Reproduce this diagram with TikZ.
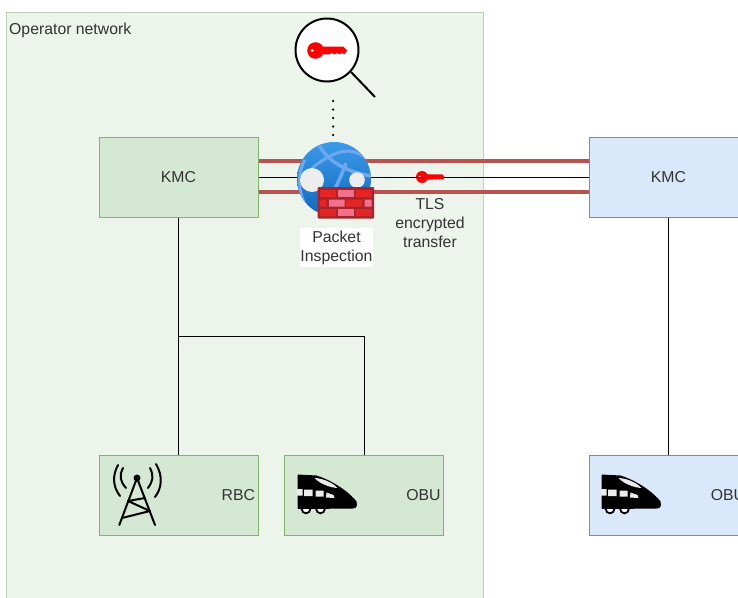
\documentclass[tikz,border=0pt]{standalone}
\usepackage{fontspec}
\setmainfont{Liberation Sans}
\definecolor{zonefill}{HTML}{EDF4EC}
\definecolor{zoneline}{HTML}{BBD3B3}
\definecolor{greenfill}{HTML}{D5E8D4}
\definecolor{greenline}{HTML}{82B366}
\definecolor{bluefill}{HTML}{DAE8FC}
\definecolor{blueline}{HTML}{6C8EBF}
\definecolor{bandred}{HTML}{B85450}
\definecolor{labelgrey}{HTML}{333333}
\definecolor{globetop}{HTML}{3C9AE8}
\definecolor{globelow}{HTML}{0F68C0}
\definecolor{globeline}{HTML}{6BA8EE}
\definecolor{brickdark}{HTML}{A4262C}
\definecolor{brickred}{HTML}{E62424}
\definecolor{brickpink}{HTML}{F2708C}
\tikzset{
	label text/.style={text=labelgrey, font=\fontsize{15.8}{19}\selectfont, inner sep=0pt, align=center},
	topbox/.style={draw, line width=1pt, minimum width=159pt, minimum height=80pt, inner sep=0pt, label text},
	lowbox/.style={topbox, text width=153pt, align=right},
	greenbox/.style={fill=greenfill, draw=greenline},
	bluebox/.style={fill=bluefill, draw=blueline},
	link/.style={line width=1pt, draw=black},
	band/.style={line width=4.5pt, draw=bandred},
	key/.pic={
		\fill[red] (0,0) circle (8.3);
		\fill[red] (0,-3.8) -- (28,-3.8) -- (31.5,0) -- (29,3.8) -- (26.5,2.5) -- (24,3.8) -- (21.5,2.5) -- (19,3.8) -- (16.5,2.5) -- (14,3.8) -- (0,3.8) -- cycle;
		\fill[white] (-3.3,0) circle (1.6);
	},
	train/.pic={
		\fill[black] (0,0) -- (19,1) .. controls (38,7) and (54,20) .. (59,27) .. controls (60,32) and (59,34) .. (55,34) -- (0,34) -- cycle;
		\fill[black!8] (-0.5,14.5) rectangle (5,21) (6.5,15) rectangle (15,21.5) (18,16) rectangle (26,22) (29,18) -- (36,20.5) -- (37,23.5) -- (28.5,23) -- cycle;
		\fill[black!8] (17,3.5) .. controls (27,4) and (36,9) .. (40,13.5) .. controls (32,13) and (22,9) .. (17,3.5) -- cycle;
		\draw[black, line width=1.8pt, fill=white] (8.5,34.5) circle (4.3) (23,34.5) circle (4.3);
		\fill[black] (0,27) rectangle (32,34);
	}
}
\begin{document}
\begin{tikzpicture}[x=1pt, y=-1pt]
	\useasboundingbox (0,0) rectangle (738,597);
	\clip (0,0) rectangle (738,597);

	\node[draw=zoneline, fill=zonefill, line width=1pt, minimum width=477pt, minimum height=620pt, anchor=north west, inner sep=0pt] (zone) at (6,12) {};
	\node[label text, anchor=west] (zonetitle) at (9,30.5) {Operator network};

	\node[topbox, greenbox] (kmcA) at (178.5,177) {KMC};
	\node[topbox, bluebox] (kmcB) at (668.5,177) {KMC};
	\node[lowbox, greenbox] (rbc) at (178.5,495) {RBC};
	\node[lowbox, greenbox] (obuA) at (364,495) {OBU};
	\node[lowbox, bluebox] (obuB) at (668.5,495) {OBU};
	\coordinate (junction) at (kmcA.south |- 0,336);

	\draw[link] (kmcA) -- (rbc);
	\draw[link] (junction) -| (obuA);
	\draw[link] (kmcB) -- (obuB);
	\draw[band] ([yshift=16pt]kmcA.east) -- ([yshift=16pt]kmcB.west);
	\draw[band] ([yshift=-15pt]kmcA.east) -- ([yshift=-15pt]kmcB.west);
	\draw[link] (kmcA) -- (kmcB);

	% globe with the firewall
	\node[circle, minimum size=74pt, inner sep=0pt, top color=globetop, bottom color=globelow] (globe) at (334,179) {};
	\begin{scope}
		\clip (globe.center) circle (37);
		\draw[globeline, line width=3.5pt] (318,143) .. controls (326,160) and (345,172) .. (372,176);
		\draw[globeline, line width=3.5pt] (346,163) .. controls (340,180) and (332,195) .. (322,214);
		\draw[globeline, line width=3pt] (305,160) .. controls (298,170) and (296,195) .. (310,212);
		\draw[globeline, line width=3pt] (366,158) .. controls (350,146) and (335,150) .. (312,168);
		\fill[black!7] (312,180) circle (12) (357,180) circle (7.8);
	\end{scope}
	\fill[brickdark, rounded corners=1pt] (317.5,187) rectangle (374,218.5);
	\foreach \row/\ytop in {0/190,2/209}{
		\fill[brickred] (320,\ytop) rectangle +(16,7) (355.5,\ytop) rectangle +(16,7);
		\fill[brickpink] (337.7,\ytop) rectangle +(16.3,7);
	}
	\fill[brickred] (319.5,199.5) rectangle +(7,7) (345.5,199.5) rectangle +(16.5,7);
	\fill[brickpink] (329,199.5) rectangle +(15.5,7) (364.5,199.5) rectangle +(7,7);

	% magnifier
	\node[circle, draw=black, fill=white, line width=2pt, minimum size=63pt, inner sep=0pt] (loupe) at (327,50) {};
	\coordinate (handle) at (375,97);
	\draw[line width=2pt] (loupe) ++(24,22) -- (handle);
	\coordinate (dotstart) at (333,101);
	\coordinate (dotend) at (333,135);
	\draw[line width=2.5pt, line cap=round, dash pattern=on 0pt off 8.5pt] (dotstart) -- (dotend);
	\pic at (315.5,50.5) {key};
	\pic[scale=0.72] at (422,177) {key};
	\draw[link] (416,177) -- (426,177);

	\node[label text, fill=white, minimum width=73pt, minimum height=39pt] (inspect) at (336.5,247.5) {Packet\\Inspection};
	\node[label text] (tls) at (430,223.5) {TLS\\encrypted\\transfer};

	% tower
	\begin{scope}[shift={(137,478)}, line cap=round, line width=2pt]
		\fill (0,0) circle (3.5);
		\draw (0,0) -- (-17.7,47) (0,0) -- (18,47);
		\draw (-9,23) -- (8,20) (-9,23) -- (13,33) (-15,40) -- (13,33);
		\draw (-14,-10) .. controls (-18,-2) and (-17,3) .. (-11,10);
		\draw (-19,-13) .. controls (-25,-2) and (-24,9) .. (-17,18);
		\draw (13,-10) .. controls (17,-2) and (16,3) .. (11,10);
		\draw (19,-14) .. controls (26,-2) and (25,10) .. (18,19);
	\end{scope}
	\pic at (297.5,474.5) {train};
	\pic at (601.5,474.5) {train};
\end{tikzpicture}
\end{document}
